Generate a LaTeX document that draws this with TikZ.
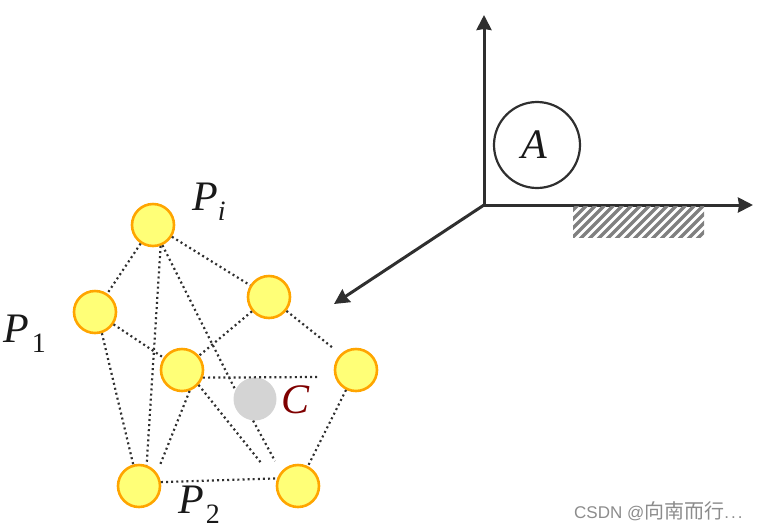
\documentclass[tikz,border=0pt]{standalone}
\usepackage{fontspec}
\setmainfont{Liberation Serif}
\newfontfamily\wmfont{Liberation Sans}
\newfontfamily\wmcjk{Noto Sans CJK SC}
\usetikzlibrary{arrows.meta}
\definecolor{ballfill}{HTML}{FFFF77}
\definecolor{ballline}{HTML}{FFA500}
\definecolor{axisgray}{HTML}{2F2F2F}
\definecolor{darkC}{HTML}{7F0000}
\newcommand{\biglbl}[1]{\fontsize{42}{42}\selectfont\itshape #1}
\newcommand{\sublbl}[3]{\biglbl{#1}\kern#3\raisebox{-10pt}{\fontsize{28}{28}\selectfont #2}}
\tikzset{
  ball/.style={circle, draw=ballline, fill=ballfill, line width=2.6pt, minimum size=42pt, inner sep=0pt},
  link/.style={draw=axisgray, line width=2.2pt, dash pattern=on 2pt off 3.1pt},
  axis/.style={draw=axisgray, line width=3pt, -{Stealth[inset=1pt,length=15pt,width=15pt]}},
  lbl/.style={anchor=base west, inner sep=0pt, text=black!90}
}
\begin{document}
\begin{tikzpicture}[x=1pt,y=-1pt]
\useasboundingbox (0,0) rectangle (760,531);
\node[ball] (pi) at (153,225) {};
\node[ball] (p1) at (95,312) {};
\node[ball] (tr) at (269,297) {};
\node[ball] (mid) at (182,370) {};
\node[ball] (rt) at (356,370) {};
\node[ball] (p2) at (139,486) {};
\node[ball] (br) at (298,486) {};
\node[circle, fill=black!17, minimum size=43pt, inner sep=0pt] (cc) at (255,399) {};
\coordinate (tr end) at (333,348);
\coordinate (mid end) at (317,377);
\coordinate (mid low) at (262,464);
\coordinate (cc end) at (275,461);
\coordinate (p2 end) at (160,465);
\path[link] (pi) -- (p1);
\path[link] (pi) -- (tr);
\path[link] (pi.-70) -- (p2.70);
\path[link] (pi.-65) -- (cc.155);
\path[link] (p1) -- (mid);
\path[link] (p1.-72) -- (p2.105);
\path[link] (tr) -- (mid);
\path[link] (tr) -- (tr end);
\path[link] (mid.-20) -- (mid end);
\path[link] (mid.-70) -- (p2 end);
\path[link] (mid.-42) -- (mid low);
\path[link] (cc.-95) -- (cc end);
\path[link] (p2.10) -- (br.160);
\path[link] (rt) -- (br);
\coordinate (o) at (484,205);
\coordinate (up) at (484,15);
\coordinate (right) at (753,205);
\coordinate (down) at (334,304);
\draw[axis] (o) -- (up);
\draw[axis] (o) -- (right);
\draw[axis] (o) -- (down);
\node[circle, draw=axisgray, line width=2.2pt, minimum size=86pt, inner sep=0pt, text=black!90] (a) at (537,145) {\raisebox{-1pt}{\biglbl{A}}\kern6pt};
\begin{scope}
\clip (573,206.5) rectangle (704,237);
\foreach \i in {-4,...,18}
  \draw[black!50, line width=3.4pt] (565+9*\i,245) -- ++(45,-45);
\end{scope}
\node[lbl] (pilbl) at (192,210) {\sublbl{P}{\itshape i}{0pt}};
\node[lbl] (p1lbl) at (3,342) {\sublbl{P}{\upshape 1}{3pt}};
\node[lbl] (p2lbl) at (178,513) {\sublbl{P}{\upshape 2}{2pt}};
\node[lbl, text=darkC] (clbl) at (281,413) {\biglbl{C}};
\node[anchor=base west, inner sep=0pt, text=black!45] (wm) at (574,518) {\fontsize{17}{17}\selectfont\wmfont CSDN @{\fontsize{20}{20}\selectfont\wmcjk 向南而行}.\kern2pt.\kern2pt.};
\end{tikzpicture}
\end{document}
